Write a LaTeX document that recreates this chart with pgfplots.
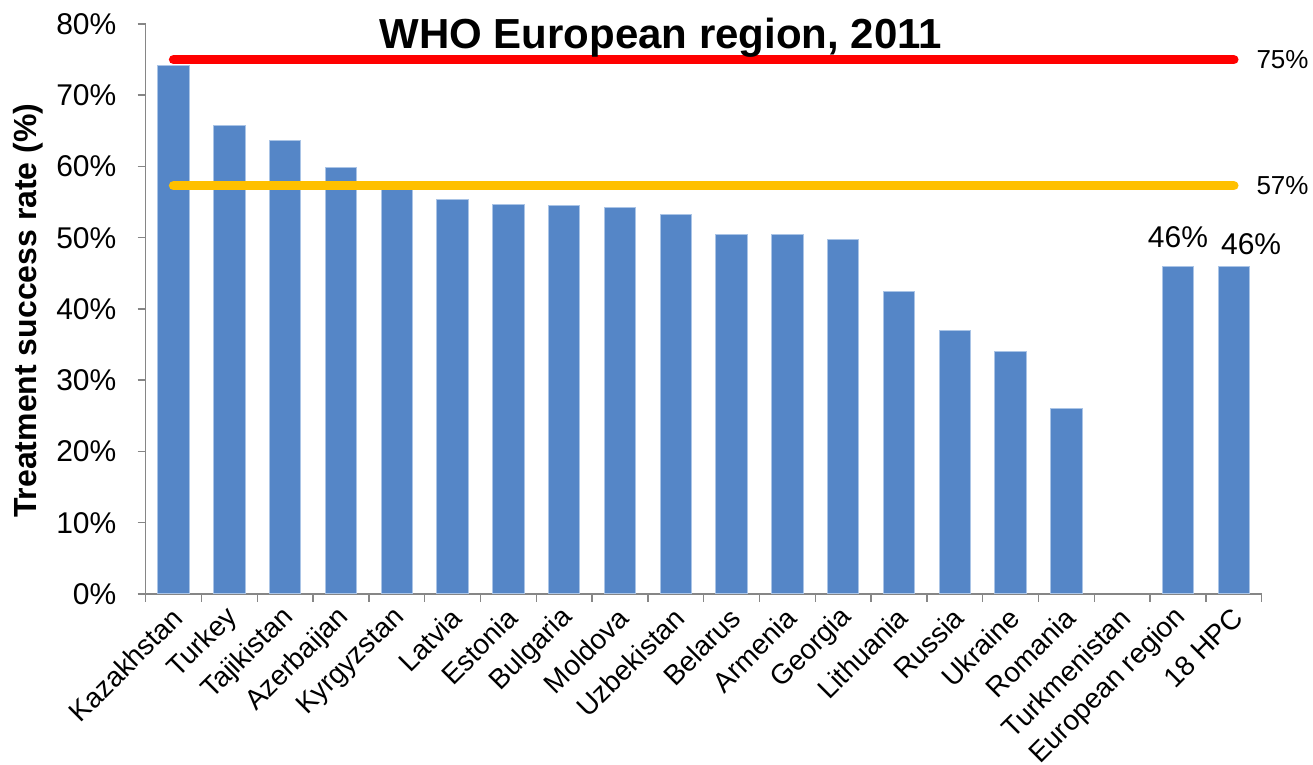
\documentclass[border=0pt]{standalone}
\usepackage{pgfplots}
\pgfplotsset{compat=1.18}
\usepackage{fontspec}
\setmainfont{Liberation Sans}
\definecolor{barblue}{RGB}{85,134,199}
\definecolor{baredge}{RGB}{170,196,230}
\definecolor{axgray}{RGB}{134,134,134}
\definecolor{gold}{RGB}{255,192,0}
\begin{document}
\begin{tikzpicture}
\begin{axis}[name=ax, at={(0,0)}, anchor=south west,
  scale only axis, width=558pt, height=285pt,
  xmin=-0.5, xmax=19.5, ymin=0, ymax=80,
  clip=false,
  axis x line*=bottom, axis y line*=left,
  every outer x axis line/.append style={-, axgray, line width=0.75pt},
  every outer y axis line/.append style={-, axgray, line width=0.75pt},
  axis line style={-, axgray, line width=0.75pt},
  /pgf/number format/assume math mode=true,
  xtick={0,...,19},
  xticklabels={Kazakhstan,Turkey,Tajikistan,Azerbaijan,Kyrgyzstan,Latvia,Estonia,Bulgaria,Moldova,Uzbekistan,Belarus,Armenia,Georgia,Lithuania,Russia,Ukraine,Romania,Turkmenistan,European region,18 HPC},
  major x tick style={draw=none},
  minor xtick={-0.5,0.5,...,19.5},
  minor x tick style={axgray, line width=0.75pt},
  ytick={0,10,...,80},
  yticklabel={\pgfmathprintnumber{\tick}\%},
  major y tick style={axgray, line width=0.75pt},
  tick align=outside, major tick length=4pt, minor tick length=4pt,
  yticklabel style={font=\fontsize{15}{18}\selectfont, anchor=east, inner sep=0pt, xshift=-10.5pt},
  xticklabel style={font=\fontsize{14}{16}\selectfont, xshift=2pt, yshift=-5.5pt, rotate=45, anchor=east, inner sep=0pt},
]
\addplot[ybar, bar width=0.566, fill=barblue, draw=baredge, line width=0.5pt] coordinates {
(0,74.2) (1,65.7) (2,63.6) (3,59.9) (4,57.5) (5,55.4) (6,54.6) (7,54.5) (8,54.2) (9,53.2)
(10,50.4) (11,50.4) (12,49.8) (13,42.5) (14,37.0) (15,34.0) (16,26.1) (18,46.0) (19,45.9)};
\addplot[red, line width=4.75pt, line cap=round] coordinates {(0,75) (19,75)};
\addplot[gold, line width=4.75pt, line cap=round] coordinates {(0,57.3) (19,57.3)};
\node[anchor=west, inner sep=0pt, font=\fontsize{13}{15}\selectfont] at (axis cs:19.4,75) {75\%};
\node[anchor=west, inner sep=0pt, font=\fontsize{13}{15}\selectfont] at (axis cs:19.4,57.3) {57\%};
\node[anchor=base, inner sep=0pt, font=\fontsize{15}{18}\selectfont] at (axis cs:18,48.6) {46\%};
\node[anchor=base, inner sep=0pt, font=\fontsize{15}{18}\selectfont] at (axis cs:19.31,47.7) {46\%};
\node[anchor=base, inner sep=0pt, font=\bfseries\fontsize{21}{25}\selectfont] at (axis cs:8.73,76.6) {WHO European region, 2011};
\node[rotate=90, inner sep=0pt, font=\bfseries\fontsize{16}{19}\selectfont] at ([xshift=-58.85pt]rel axis cs:0,0.497) {Treatment success rate (\%)};
\end{axis}
\pgfresetboundingbox
\path[use as bounding box] ([xshift=-72.85pt,yshift=-85.35pt]ax.south west) rectangle ([xshift=25.65pt,yshift=12pt]ax.north east);
\end{tikzpicture}
\end{document}
